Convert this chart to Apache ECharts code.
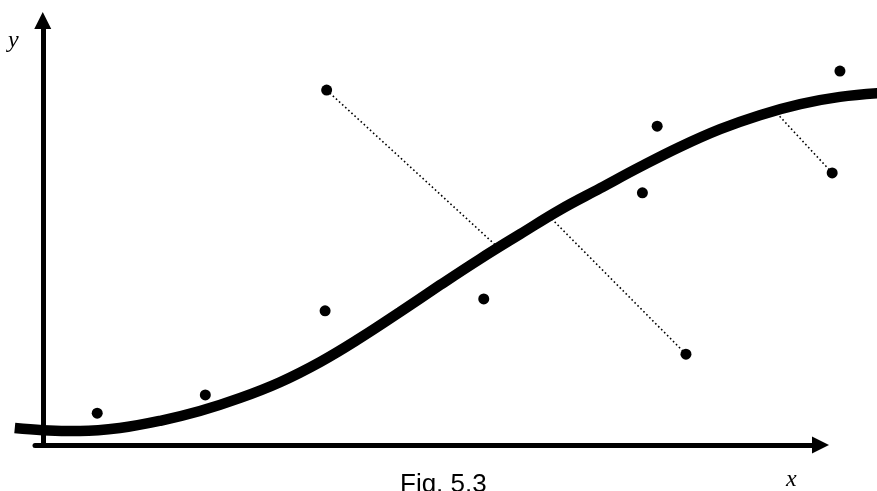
<!DOCTYPE html>
<html>
<head>
<meta charset="utf-8">
<style>
  html, body { margin: 0; padding: 0; background: #fff; }
  #chart { width: 877px; height: 491px; }
</style>
<script src="https://cdn.jsdelivr.net/npm/echarts@6/dist/echarts.min.js"></script>
</head>
<body>
<div id="chart"></div>
<script>
// Fitted S-shaped curve, sampled along x
const curveX = [-0.36, 0.00, 0.48, 0.99, 1.51, 2.02, 2.54, 3.05, 3.57, 4.08, 4.59, 5.11, 5.62, 6.14, 6.65, 7.17, 7.68, 8.19, 8.71, 9.22, 9.74, 10.25, 10.77];
const curveY = [0.40, 0.35, 0.33, 0.40, 0.57, 0.80, 1.11, 1.48, 1.96, 2.52, 3.13, 3.77, 4.38, 4.97, 5.54, 6.05, 6.55, 7.02, 7.44, 7.77, 8.03, 8.20, 8.29];

// Observed data points
const pointX = [0.70, 2.09, 3.63, 5.67, 7.71, 7.90, 8.27, 3.65, 10.15, 10.25];
const pointY = [0.75, 1.18, 3.16, 3.44, 5.94, 7.51, 2.14, 8.36, 6.41, 8.81];

// Orthogonal residuals: from a point to its foot on the curve
const residualFromX = [3.65, 8.27, 10.15];
const residualFromY = [8.36, 2.14, 6.41];
const residualToX = [5.85, 6.51, 9.40];
const residualToY = [4.66, 5.39, 7.89];

// Axis range shown by the drawn axes
const xRange = [-0.1, 10];
const yRange = [0, 10];

// Axis and caption texts
const xName = 'x';
const yName = 'y';
const caption = 'Fig. 5.3';

const W = 877, H = 491;
const plot = { left: 35, right: 56.5, top: 20.5, bottom: 46 };

// The marks run past the axes (curve enters left of the y axis and leaves
// past the arrow), so they sit on a full-canvas grid with the same scale.
const pxPerX = (W - plot.left - plot.right) / (xRange[1] - xRange[0]);
const pxPerY = (H - plot.top - plot.bottom) / (yRange[1] - yRange[0]);
const fullX = [xRange[0] - plot.left / pxPerX, xRange[1] + plot.right / pxPerX];
const fullY = [yRange[0] - plot.bottom / pxPerY, yRange[1] + plot.top / pxPerY];

const chart = echarts.init(document.getElementById('chart'), null, { renderer: 'canvas' });

const drawnAxis = {
  type: 'value',
  gridIndex: 0,
  axisLine: {
    show: true,
    onZero: true,
    symbol: ['none', 'triangle'],
    symbolSize: [17, 17],
    lineStyle: { color: '#000', width: 5 }
  },
  axisTick: { show: false },
  axisLabel: { show: false },
  splitLine: { show: false }
};

const hiddenAxis = { type: 'value', gridIndex: 1, show: false, splitLine: { show: false } };

const residualSeries = residualFromX.map((x0, i) => ({
  type: 'line',
  xAxisIndex: 1,
  yAxisIndex: 1,
  clip: false,
  silent: true,
  symbol: 'none',
  z: 1,
  data: [[x0, residualFromY[i]], [residualToX[i], residualToY[i]]],
  lineStyle: { color: '#000', width: 1.6, type: [1.6, 2.6] }
}));

chart.setOption({
  animation: false,
  backgroundColor: '#fff',
  grid: [
    { left: plot.left, right: plot.right, top: plot.top, bottom: plot.bottom, containLabel: false },
    { left: 0, right: 0, top: 0, bottom: 0, containLabel: false }
  ],
  xAxis: [
    Object.assign({}, drawnAxis, { min: xRange[0], max: xRange[1] }),
    Object.assign({}, hiddenAxis, { min: fullX[0], max: fullX[1] })
  ],
  yAxis: [
    Object.assign({}, drawnAxis, { min: yRange[0], max: yRange[1] }),
    Object.assign({}, hiddenAxis, { min: fullY[0], max: fullY[1] })
  ],
  graphic: [
    {
      type: 'text', left: 8, top: 29,
      style: { text: yName, font: 'italic 24px "Liberation Serif", serif', fill: '#000' }
    },
    {
      type: 'text', left: 786, top: 468,
      style: { text: xName, font: 'italic 24px "Liberation Serif", serif', fill: '#000' }
    },
    {
      type: 'text', left: 400, top: 472,
      style: { text: caption, font: '26px "Liberation Sans", Arial, sans-serif', fill: '#000' }
    }
  ],
  series: residualSeries.concat([
    {
      type: 'line',
      xAxisIndex: 1,
      yAxisIndex: 1,
      clip: false,
      silent: true,
      symbol: 'none',
      smooth: 0.4,
      z: 3,
      data: curveX.map((x, i) => [x, curveY[i]]),
      lineStyle: { color: '#000', width: 10.5, cap: 'butt' }
    },
    {
      type: 'scatter',
      xAxisIndex: 1,
      yAxisIndex: 1,
      clip: false,
      silent: true,
      symbol: 'circle',
      symbolSize: 11,
      z: 4,
      itemStyle: { color: '#000', opacity: 1 },
      data: pointX.map((x, i) => [x, pointY[i]])
    }
  ])
});
</script>
</body>
</html>
